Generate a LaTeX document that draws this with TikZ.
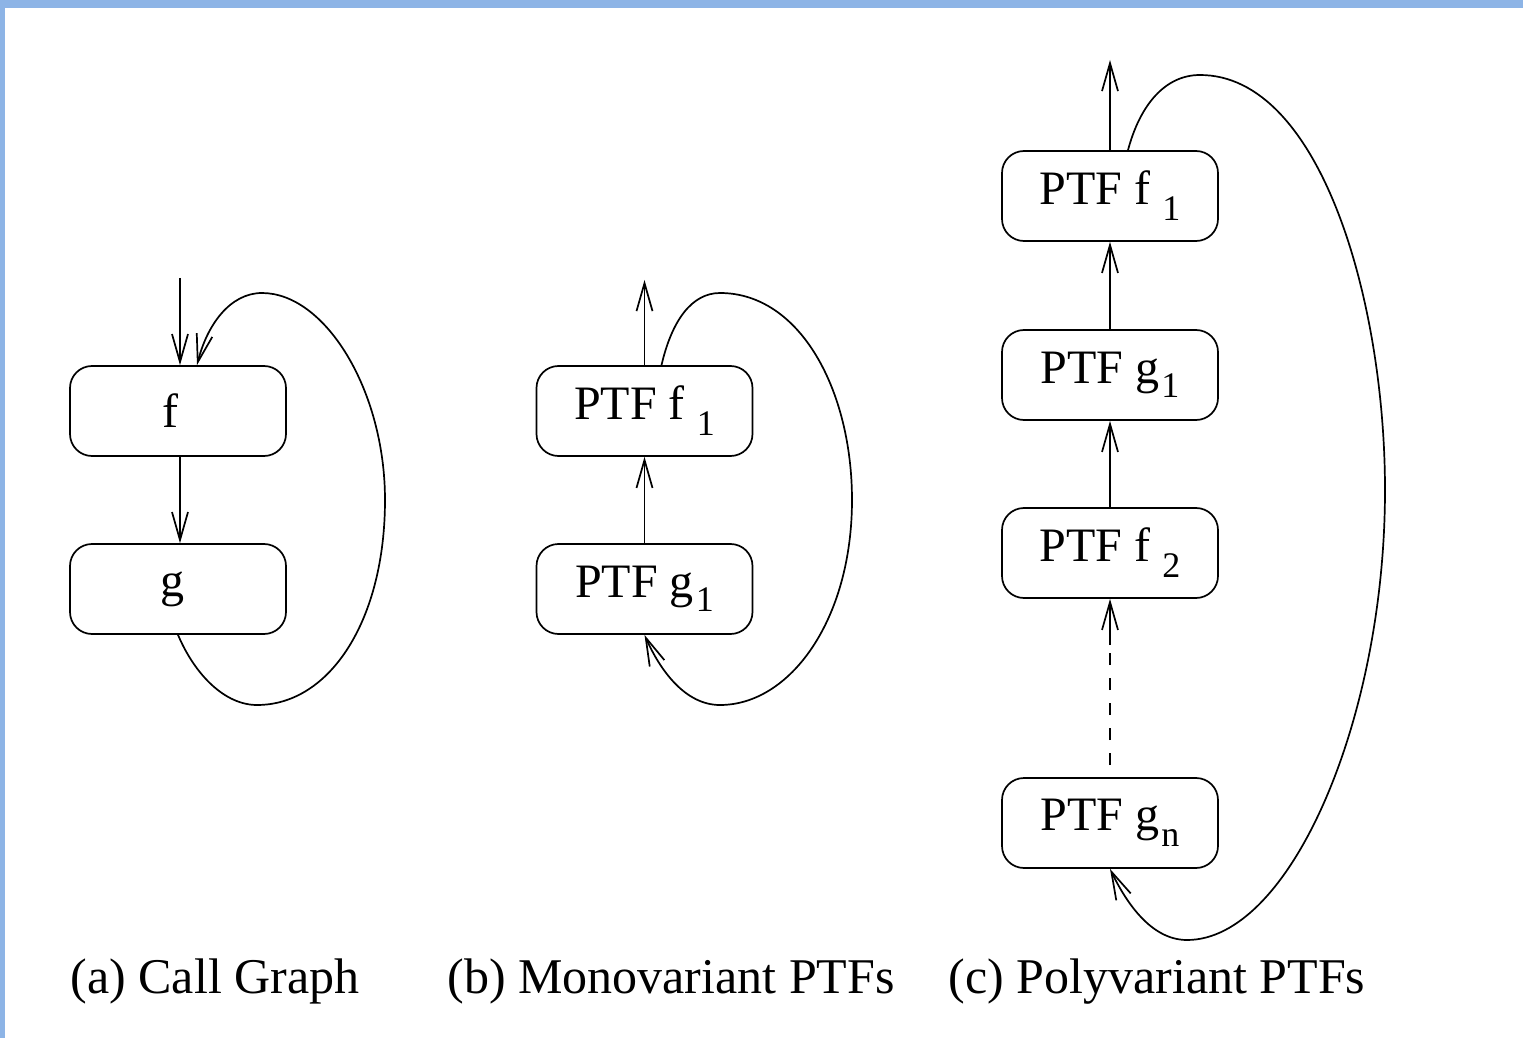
\documentclass[tikz,border=0pt]{standalone}
\usepackage{fontspec}
\setmainfont{Liberation Serif}
\usetikzlibrary{arrows.meta,calc}
\definecolor{frameblue}{RGB}{141,180,230}
% lowered subscript used in the box labels
\newcommand\lowsub[2][8pt]{\raisebox{-#1}{\fontsize{18}{18}\selectfont #2}}
\begin{document}
\begin{tikzpicture}[x=0.5pt,y=-0.5pt,
  every node/.style={font=\fontsize{24}{28}\selectfont},
  fbox/.style={draw, rounded corners=11pt, minimum width=108pt, minimum height=45pt,
    inner sep=0pt, line width=0.85pt},
  link/.style={line width=0.85pt, -{Straight Barb[length=14pt,width=8pt,line width=0.85pt]}},
  plain/.style={line width=0.85pt},
  caption/.style={font=\fontsize{25}{30}\selectfont, anchor=base}]

% page and frame
\fill[white] (0,0) rectangle (1523,1038);
\useasboundingbox (0,0) rectangle (1523,1038);
\fill[frameblue] (0,0) rectangle (1523,8);
\fill[frameblue] (0,0) rectangle (5,1038);

% (a) call graph
\node[fbox] (fa) at (178,411) {f\kern8pt};
\node[fbox] (ga) at (178,589) {g\kern6pt};
\coordinate (ina) at (180,278);
\draw[link] (ina) -- ($(fa.north)+(2,0)$);
\draw[link] ($(fa.south)+(2,0)$) -- ($(ga.north)+(2,0)$);
\draw[link] (ga.south)
  .. controls (195,675) and (225,705) .. (257,705)
  .. controls (330,705) and (385,620) .. (385,500)
  .. controls (385,390) and (325,293) .. (262,293)
  .. controls (230,293) and (207,325) .. ($(fa.north)+(19,0)$);

% (b) monovariant PTFs
\node[fbox] (fb) at (644.5,411) {PTF f \lowsub{1}};
\node[fbox] (gb) at (644.5,589) {PTF g\hspace{1pt}\lowsub[7pt]{1}};
\coordinate (outb) at (644.5,280);
\draw[link] (fb.north) -- (outb);
\draw[link] (gb.north) -- (fb.south);
\draw[link] ($(fb.north)+(17,0)$)
  .. controls (672,320) and (692,293) .. (720,293)
  .. controls (800,293) and (852,390) .. (852,500)
  .. controls (852,620) and (790,705) .. (720,705)
  .. controls (685,705) and (660,670) .. (gb.south);

% (c) polyvariant PTFs
\node[fbox] (fc1) at (1110,196) {PTF f \lowsub{1}};
\node[fbox] (gc1) at (1110,375) {PTF g\hspace{1pt}\lowsub[7pt]{1}};
\node[fbox] (fc2) at (1110,553) {PTF f \lowsub{2}};
\node[fbox] (gcn) at (1110,823) {PTF g\hspace{1pt}\lowsub{n}};
\coordinate (outc) at (1110,60);
\coordinate (dashend) at (1110,645);
\draw[link] (fc1.north) -- (outc);
\draw[link] (gc1.north) -- (fc1.south);
\draw[link] (fc2.north) -- (gc1.south);
\draw[plain, dash pattern=on 6pt off 6.5pt, dash phase=6.5pt] (gcn.north) -- (dashend);
\draw[link] (dashend) -- (fc2.south);
\draw[link] ($(fc1.north)+(18,0)$)
  .. controls (1140,105) and (1165,75) .. (1200,75)
  .. controls (1320,75) and (1385,300) .. (1385,490)
  .. controls (1385,720) and (1290,940) .. (1187,940)
  .. controls (1150,940) and (1125,900) .. (gcn.south);

% captions
\node[caption] (capa) at (215,993) {(a) Call Graph};
\node[caption] (capb) at (671,993) {(b) Monovariant PTFs};
\node[caption] (capc) at (1157,993) {(c) Polyvariant PTFs};
\end{tikzpicture}
\end{document}
